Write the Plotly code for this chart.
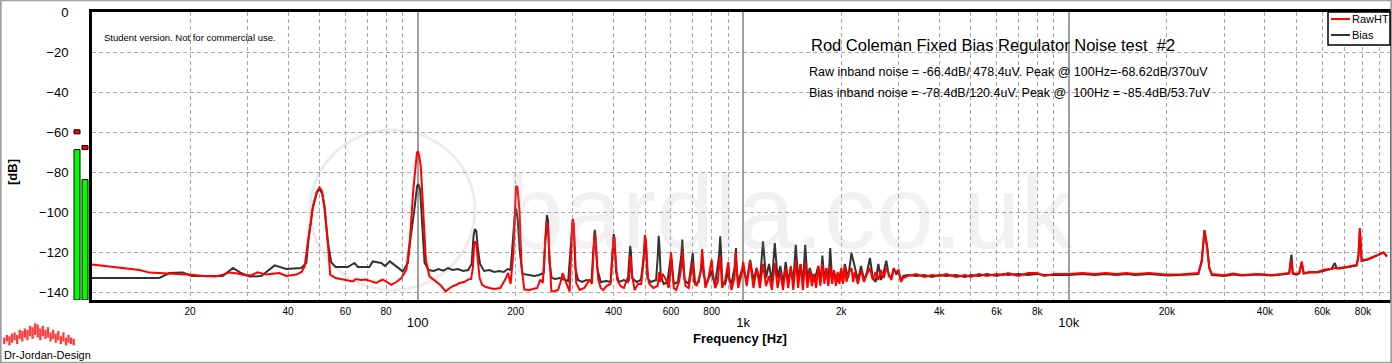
import math
import plotly.graph_objects as go

# ---------------- data ----------------
raw_freq = [
    10, 12, 14, 15, 17, 19, 20.2, 22, 24, 25.2, 26.5, 28, 29.8, 31, 32.2, 34.3, 36, 37.6, 39.5, 42.4,
    44, 45, 46.1, 47.7, 49, 50, 50.8, 51.7, 52.9, 53.9, 56, 58.9, 61, 63.3, 64.6, 67, 69.3, 72, 74.6, 76.5,
    78.2, 80.5, 83, 86, 89, 92.4, 94.7, 97, 99.5, 100.2, 101, 102.3, 103.9, 106,
    108.7, 113, 117.2, 122, 124.5, 127, 131, 134.6, 139, 142.9, 146, 147.8, 149.2, 150, 151.5, 153, 155, 157.8,
    162, 166.5, 172, 179.5, 185.8, 189.6, 193, 196.9, 199, 200.5, 202.5, 204, 205.5, 208.5, 212.6, 220, 227, 233,
    238, 242.4, 246, 248.5, 250, 251.5, 254.5, 257.5, 264, 270, 276, 279, 286, 293, 297.5, 299.5, 301.5, 304,
    307, 314.6, 325, 337.6, 343, 347.5, 350, 352.5, 358.8, 365, 371.9, 380, 391, 397, 400.5, 403, 410, 420,
    430, 440, 446, 449, 451, 454, 464, 475, 486, 494, 499, 503, 510, 515, 530, 546, 552, 556, 566, 580,
    590, 596, 600, 604, 612, 622, 635, 645, 650, 655, 665, 680, 693, 700, 706, 720, 740, 748, 754, 765,
    780, 795, 800, 806, 820, 835, 848, 852, 862, 880, 895, 900, 906, 920, 940, 948, 954, 965, 985,
    1000, 1025, 1050, 1075, 1100, 1125, 1150, 1175, 1200, 1225, 1250, 1275, 1300, 1325, 1350, 1375, 1400, 1425,
    1450, 1475, 1500, 1525, 1550, 1575, 1600, 1625, 1650, 1675, 1700, 1725, 1750, 1775, 1800, 1825, 1850, 1875,
    1900, 1925, 1950, 1975, 2000, 2025, 2050, 2075, 2100, 2150, 2175, 2200, 2250, 2300, 2350, 2400, 2450, 2500,
    2550, 2600, 2650, 2700, 2750, 2800, 2850, 2900, 2950, 3000, 3050, 3100,
    3200, 3400, 3600, 3800, 4000, 4200, 4500, 4800, 5000, 5300, 5600, 6000, 6300, 6500, 7000, 7500, 8000, 8400,
    9000, 10000, 11000, 12000, 13000, 14000, 15000, 16000, 17700, 19000, 20000, 22000, 24000, 25000, 25600,
    26100, 26600, 27000, 27500, 30000, 32000, 34000, 38000, 42000, 45000, 47500, 48000, 48300, 48700, 50000,
    51000, 51900, 52600, 55000, 58000, 61000, 64000, 65600, 68000, 73500, 76500, 77500, 78000, 78300, 78800,
    79300, 83000, 86700, 90000, 92600, 94800,
]
raw_db = [
    -126.3, -127.6, -129.0, -130.3, -130.7, -131.2, -131.4, -132.0, -132.2, -131.3, -130.2, -130.8, -131.8, -131.5, -130.2, -131.3, -131.0, -130.5, -132.0, -131.3,
    -130.0, -127.2, -113.8, -97.2, -90.0, -87.7, -89.5, -97.0, -113.8, -131.3, -133.0, -133.8, -134.2, -134.7, -133.5, -134.0, -133.8, -134.8, -135.5, -134.5,
    -133.8, -135.0, -136.4, -135.0, -133.2, -128.8, -113.8, -88.8, -70.5, -69.6, -71.5, -77.2, -97.2, -123.8,
    -132.2, -134.5, -136.4, -139.7, -138.5, -137.4, -136.5, -135.5, -135.0, -133.8, -133.5, -128.0, -116.0, -114.7, -116.0, -124.0, -133.0, -136.4,
    -137.5, -138.0, -138.5, -138.0, -133.8, -130.5, -136.0, -120.5, -96.0, -87.0, -87.5, -93.0, -99.0, -127.2, -138.8, -139.0, -138.5, -138.0,
    -133.8, -135.5, -117.0, -106.7, -104.8, -108.0, -127.2, -139.7, -139.5, -139.0, -134.0, -130.5, -135.5, -139.7, -112.0, -103.5, -106.0, -120.0,
    -135.5, -139.0, -138.0, -133.8, -136.0, -117.0, -111.4, -117.0, -133.8, -138.0, -139.0, -137.0, -136.0, -120.0, -112.0, -117.0, -133.8, -137.0,
    -138.0, -133.5, -134.0, -123.0, -122.2, -130.0, -139.0, -136.0, -136.0, -125.0, -111.4, -115.0, -133.0, -136.0, -138.0, -137.0, -130.0, -135.0, -131.0, -134.0,
    -138.0, -132.0, -120.2, -125.0, -138.0, -139.0, -135.0, -128.0, -119.7, -128.0, -137.0, -138.0, -130.0, -125.0, -135.0, -137.0, -130.0, -118.5, -126.0, -138.0,
    -134.0, -127.0, -123.8, -130.0, -138.0, -135.0, -122.0, -126.0, -138.0, -134.0, -128.0, -125.0, -133.0, -139.0, -133.0, -120.2, -128.0, -138.0, -132.0,
    -125.0, -137.0, -124.5, -138.0, -128.0, -138.0, -126.0, -137.0, -132.0, -139.0, -125.5, -138.0, -130.0, -139.0, -128.0, -138.0, -127.0, -139.0,
    -124.0, -138.0, -126.0, -139.0, -125.0, -138.0, -129.0, -137.0, -131.0, -138.0, -127.0, -137.0, -126.0, -136.0, -128.0, -137.0, -127.0, -136.0,
    -129.0, -137.0, -130.0, -136.0, -128.0, -136.0, -127.0, -135.0, -131.0, -128.0, -135.0, -130.0, -136.0, -129.0, -135.0, -131.0, -128.0, -134.0,
    -130.0, -134.0, -129.0, -133.0, -128.0, -131.0, -134.0, -129.0, -130.0, -129.0, -135.0, -133.0,
    -132.0, -131.0, -132.5, -131.5, -132.0, -131.0, -132.5, -131.5, -132.5, -131.0, -132.0, -131.0, -131.5, -130.5, -132.0, -130.5, -130.5, -132.0,
    -131.0, -131.0, -130.5, -131.0, -130.5, -131.0, -130.5, -131.0, -130.5, -131.0, -131.3, -131.3, -130.5, -130.5, -125.0,
    -109.2, -118.0, -128.0, -131.0, -131.6, -130.8, -131.5, -131.0, -131.5, -131.0, -130.5, -126.0, -124.0, -130.5, -131.0,
    -130.5, -124.7, -130.5, -130.0, -130.0, -128.8, -128.5, -128.0, -128.0, -127.2, -126.5, -122.0, -110.0, -108.0, -115.0,
    -124.2, -123.5, -122.2, -121.0, -120.2, -122.0,
]

bias_freq = [
    10, 14, 16.1, 17.3, 19, 20.2, 23, 25.2, 27.1, 28.7, 30.5, 33.1, 36.4, 39.5, 43.9, 45.5, 46.3, 47.7, 49, 50,
    51, 51.8, 53, 54.3, 56, 61, 64, 65.5, 71.1, 72.8, 77.4, 79.3, 82.2, 86, 90, 93.3, 95, 98, 99.6, 100.5,
    101.8, 104, 105,
    108, 112, 116, 120, 124, 128, 133, 138, 143, 146.5, 148.5, 150, 151.5, 153, 155.5, 160, 166, 172, 178, 184,
    189, 193, 197, 199.5, 201, 203, 206, 210, 220, 228, 236, 244, 247, 249.5, 251.5, 254, 258, 265, 273, 282,
    290, 297, 299.8, 302, 305, 311, 320, 330, 342, 347, 349.8, 352, 356, 365, 380, 392, 397, 400, 402.5, 407,
    415, 430, 442, 447, 449.5, 452, 456, 470, 485, 495, 500, 503, 508, 520, 540, 546, 550, 553, 558, 570,
    585, 595, 600, 604, 612, 630, 645, 650, 654, 660, 680, 695, 700, 704, 712, 730, 745, 750, 755, 770,
    790, 800, 806, 820, 843, 850, 855, 862, 880, 896, 900, 905, 920, 940, 950, 955, 965, 985,
    1000, 1025, 1050, 1075, 1100, 1125, 1150, 1175, 1200, 1225, 1250, 1275, 1300, 1325, 1350, 1375, 1400, 1425,
    1450, 1475, 1500, 1525, 1550, 1575, 1600, 1650, 1700, 1730, 1750, 1775, 1800, 1825, 1850, 1875, 1900, 1950,
    2000, 2025, 2050, 2100, 2150, 2200, 2250, 2300, 2350, 2400, 2450, 2500, 2550, 2600, 2650, 2700, 2750, 2800,
    2850, 2900, 2950, 3000, 3050, 3100,
    3200, 3400, 3600, 3800, 4000, 4200, 4500, 4800, 5000, 5300, 5600, 6000, 6300, 6500, 7000, 7500, 8000, 8400,
    9000, 10000, 11000, 12000, 13000, 14000, 15000, 16000, 17700, 19000, 20000, 22000, 24000, 25000, 25600,
    26100, 26600, 27000, 27500, 30000, 32000, 34000, 38000, 42000, 45000, 47500, 48000, 48300, 48700, 50000,
    51000, 51900, 52600, 55000, 58000, 61000, 64000, 65600, 66500, 68000, 73500, 76500, 77500, 78000, 78300,
    78800, 79300, 83000, 86700, 90000, 92600, 94800,
]
bias_db = [
    -133.0, -133.0, -133.0, -130.5, -130.2, -132.0, -132.0, -132.0, -128.0, -130.5, -132.3, -132.0, -126.7, -128.5, -128.0, -125.5, -113.0, -97.5, -90.5, -88.5,
    -91.0, -98.0, -115.0, -125.2, -127.5, -127.5, -125.5, -127.5, -127.5, -124.7, -125.5, -127.0, -124.7, -127.0, -129.7, -125.5, -113.8, -97.2, -87.0, -86.0,
    -88.8, -113.8, -125.2,
    -129.0, -129.5, -128.5, -129.3, -128.0, -129.0, -128.5, -129.5, -129.0, -126.0, -112.0, -108.5, -109.5, -118.0, -126.0, -129.5, -129.0, -130.0, -129.5, -130.0,
    -128.5, -129.0, -110.0, -99.0, -98.8, -104.0, -120.0, -131.0, -131.5, -132.0, -131.5, -130.5, -112.0, -101.5, -104.0, -125.0, -133.0, -133.5, -133.0, -134.0,
    -134.5, -112.0, -103.8, -108.0, -128.0, -134.0, -135.0, -134.0, -134.5, -118.0, -108.9, -112.0, -128.0, -135.0, -134.5, -135.0, -120.0, -111.0, -113.0, -130.0,
    -135.0, -134.0, -135.0, -125.0, -116.9, -120.0, -133.0, -135.0, -134.0, -122.0, -113.0, -118.0, -133.0, -135.0, -134.0, -123.0, -111.9, -117.0, -132.0, -136.0,
    -135.0, -126.0, -122.0, -128.0, -136.0, -135.0, -122.0, -113.8, -120.0, -134.0, -136.0, -126.0, -120.5, -127.0, -136.0, -135.0, -128.0, -124.0, -131.0, -136.0,
    -132.0, -129.0, -133.0, -136.0, -122.0, -112.2, -120.0, -135.0, -136.0, -131.0, -127.0, -133.0, -136.0, -128.0, -118.0, -128.0, -136.0, -130.0,
    -128.0, -135.0, -124.0, -134.0, -128.0, -135.0, -114.7, -133.0, -126.0, -135.0, -115.5, -133.0, -127.0, -136.0, -125.0, -135.0, -128.0, -135.0,
    -116.4, -134.0, -126.0, -136.0, -116.4, -134.0, -128.0, -135.0, -127.0, -135.0, -121.8, -134.0, -128.0, -136.0, -118.0, -134.0, -130.0, -135.0,
    -129.0, -135.0, -126.0, -133.0, -120.5, -128.0, -134.0, -127.0, -134.0, -130.0, -123.0, -133.0, -135.0, -126.0, -134.0, -130.0, -124.3, -132.0,
    -133.0, -128.0, -131.0, -130.0, -134.0, -132.0,
    -131.5, -132.0, -131.5, -132.5, -131.5, -132.0, -131.5, -132.5, -131.5, -132.0, -131.0, -132.0, -131.0, -131.5, -131.0, -131.5, -131.0, -131.5,
    -131.5, -131.5, -131.0, -131.5, -131.0, -131.5, -131.0, -131.5, -131.0, -131.5, -131.8, -131.5, -131.0, -131.0, -124.0,
    -109.0, -117.5, -128.0, -131.5, -132.0, -131.2, -131.8, -131.3, -131.8, -131.3, -130.8, -124.0, -121.3, -130.8, -131.3,
    -130.8, -125.5, -130.8, -130.3, -130.3, -129.2, -128.5, -125.5, -128.3, -128.3, -127.5, -126.8, -122.5, -111.0, -109.0,
    -116.0, -124.5, -123.8, -122.5, -121.3, -120.3, -122.3,
]

series_names = ["RawHT", "Bias"]
series_colors = ["#ff0000", "#333333"]

grid_ticks = [20, 30, 40, 50, 60, 70, 80, 90,
              200, 300, 400, 500, 600, 700, 800, 900,
              2000, 3000, 4000, 5000, 6000, 7000, 8000, 9000,
              20000, 30000, 40000, 50000, 60000, 70000, 80000, 90000]
grid_labels = ["20", "", "40", "", "60", "", "80", "",
               "200", "", "400", "", "600", "", "800", "",
               "2k", "", "4k", "", "6k", "", "8k", "",
               "20k", "", "40k", "", "60k", "", "80k", ""]
major_ticks = [100, 1000, 10000]
major_labels = ["100", "1k", "10k"]
y_ticks = [0, -20, -40, -60, -80, -100, -120, -140]
y_range = [-144, 0]
freq_range = [10, 96900]

meter_levels = [-68.8, -83.8]
meter_peaks = [-59.9, -67.8]

logo_low = [3, 5, 2, 4, 6, 3, 7, 5, 8, 6, 9, 7, 10, 8, 6, 9, 7, 8, 5, 7, 4, 6, 3, 5, 2, 4, 3, 2]
logo_high = [8, 10, 9, 11, 12, 10, 14, 13, 15, 14, 17, 16, 19, 18, 15, 17, 14, 16, 12, 14, 11, 13, 9, 12, 8, 10, 8, 7]

# ---------------- layout helpers ----------------
W, H = 1392, 363
FONT = "Liberation Sans, Arial, sans-serif"


def px(x):
    return x / W


def py(y):
    return (H - y) / H


xr = [math.log10(freq_range[0]), math.log10(freq_range[1])]
plot_x = [px(92), px(1390)]
plot_y = [py(300), py(12)]

fig = go.Figure()

fig.add_trace(go.Scatter(x=bias_freq, y=bias_db, mode="lines", name=series_names[1],
                         line=dict(color=series_colors[1], width=2), xaxis="x", yaxis="y",
                         showlegend=False))
fig.add_trace(go.Scatter(x=raw_freq, y=raw_db, mode="lines", name=series_names[0],
                         line=dict(color=series_colors[0], width=2), xaxis="x2", yaxis="y",
                         showlegend=False))

# level meters
fig.add_trace(go.Bar(x=[0, 1], y=[v - y_range[0] for v in meter_levels], base=[y_range[0]] * 2,
                     width=0.75, marker=dict(color="#00ff00", line=dict(color="black", width=1)),
                     xaxis="x4", yaxis="y4", showlegend=False, hoverinfo="skip"))
fig.add_trace(go.Bar(x=[0, 1], y=[2, 2], base=[p - 1 for p in meter_peaks],
                     width=0.75, marker=dict(color="#ff0000", line=dict(color="black", width=1)),
                     xaxis="x4", yaxis="y4", showlegend=False, hoverinfo="skip"))

# logo
fig.add_trace(go.Bar(x=list(range(len(logo_low))), y=[h - l for h, l in zip(logo_high, logo_low)],
                     base=logo_low, width=0.9, marker=dict(color="#ff3b3b", line=dict(width=0)),
                     xaxis="x3", yaxis="y3", showlegend=False, hoverinfo="skip"))

axis_font = dict(family=FONT, color="black")

fig.update_layout(
    width=W, height=H,
    margin=dict(l=0, r=0, t=0, b=0),
    paper_bgcolor="white", plot_bgcolor="white",
    barmode="overlay",
    font=dict(family=FONT, color="black"),
    showlegend=False,
    xaxis=dict(type="log", range=xr, domain=plot_x, anchor="y",
               tickvals=grid_ticks, ticktext=grid_labels,
               tickfont=dict(size=10, **axis_font),
               ticks="outside", ticklen=0, tickcolor="rgba(0,0,0,0)",
               showgrid=True, gridcolor="#a8a8a8", gridwidth=1, griddash="4px,3px",
               showline=True, linecolor="black", linewidth=3, mirror=True,
               zeroline=False, automargin=False, fixedrange=True),
    xaxis2=dict(type="log", range=xr, overlaying="x", anchor="y", side="bottom",
                tickvals=major_ticks, ticktext=major_labels,
                tickfont=dict(size=13, **axis_font),
                ticks="outside", ticklen=10, tickcolor="rgba(0,0,0,0)",
                showgrid=True, gridcolor="#a0a0a0", gridwidth=2,
                showline=False, zeroline=False, automargin=False, fixedrange=True),
    yaxis=dict(range=y_range, domain=plot_y, anchor="x",
               tickvals=y_ticks, tickfont=dict(size=13, **axis_font),
               ticks="outside", ticklen=18, tickcolor="rgba(0,0,0,0)",
               showgrid=True, gridcolor="#a8a8a8", gridwidth=1, griddash="4px,3px",
               showline=True, linecolor="black", linewidth=3, mirror=True,
               zeroline=False, automargin=False, fixedrange=True),
    xaxis3=dict(domain=[px(3), px(75)], anchor="y3", range=[-0.5, len(logo_low) - 0.5],
                visible=False, fixedrange=True),
    yaxis3=dict(domain=[py(348), py(322)], anchor="x3", range=[0, 20], visible=False, fixedrange=True),
    xaxis4=dict(domain=[px(73), px(89)], anchor="y4", range=[-0.5, 1.5], visible=False, fixedrange=True),
    yaxis4=dict(domain=plot_y, anchor="x4", range=y_range, visible=False, fixedrange=True),
)

# legend box (drawn by hand to match the compact original legend)
legend_rows_y = [19, 35]
annotations = [
    dict(text="Student version. Not for commercial use.", x=px(102), y=py(38), xanchor="left",
         yanchor="middle", font=dict(size=9.5)),
    dict(text="Rod Coleman Fixed Bias Regulator Noise test \u00a0#2", x=px(809), y=py(45), xanchor="left",
         yanchor="middle", font=dict(size=16.5)),
    dict(text="Raw inband noise = -66.4dB/ 478.4uV. Peak @ 100Hz=-68.62dB/370uV", x=px(807), y=py(72),
         xanchor="left", yanchor="middle", font=dict(size=12.5)),
    dict(text="Bias inband noise = -78.4dB/120.4uV. Peak @ \u00a0100Hz = -85.4dB/53.7uV", x=px(807), y=py(93),
         xanchor="left", yanchor="middle", font=dict(size=12.5)),
    dict(text="<b>[dB]</b>", x=px(12), y=py(172), textangle=-90, xanchor="center", yanchor="middle",
         font=dict(size=13)),
    dict(text="<b>Frequency [Hz]</b>", x=px(740), y=py(338), xanchor="center", yanchor="middle",
         font=dict(size=13)),
    dict(text="Dr-Jordan-Design", x=px(2), y=py(355), xanchor="left", yanchor="middle",
         font=dict(size=11)),
    dict(text="bardla.co.uk", x=px(790), y=py(212), xanchor="center", yanchor="middle",
         font=dict(size=104, color="rgba(170,170,170,0.16)")),
]
for name, ry in zip(series_names, legend_rows_y):
    annotations.append(dict(text=name, x=px(1350), y=py(ry), xanchor="left", yanchor="middle",
                            font=dict(size=11)))
for a in annotations:
    a.update(xref="paper", yref="paper", showarrow=False)
    a.setdefault("font", {})
    a["font"].setdefault("family", FONT)
    a["font"].setdefault("color", "black")
fig.update_layout(annotations=annotations)

shapes = [
    dict(type="rect", xref="paper", yref="paper", x0=0.0005, x1=0.9995, y0=0.001, y1=0.999,
         line=dict(color="#a0a0a0", width=2), layer="above"),
    dict(type="circle", xref="paper", yref="paper", x0=px(310), x1=px(475), y0=py(290), y1=py(130),
         line=dict(color="rgba(170,170,170,0.22)", width=3), layer="below"),
    dict(type="rect", xref="paper", yref="paper", x0=px(1328), x1=px(1390), y0=py(45), y1=py(12),
         fillcolor="white", line=dict(color="black", width=1.5), layer="above"),
]
for color, ry in zip(series_colors, legend_rows_y):
    shapes.append(dict(type="line", xref="paper", yref="paper", x0=px(1331), x1=px(1350),
                       y0=py(ry), y1=py(ry), line=dict(color=color, width=2), layer="above"))
fig.update_layout(shapes=shapes)

fig.write_html("out.html", config={"displayModeBar": False, "staticPlot": True},
               post_script="document.body.style.margin='0';document.body.style.padding='0';"
                           "document.documentElement.style.overflow='hidden';")
